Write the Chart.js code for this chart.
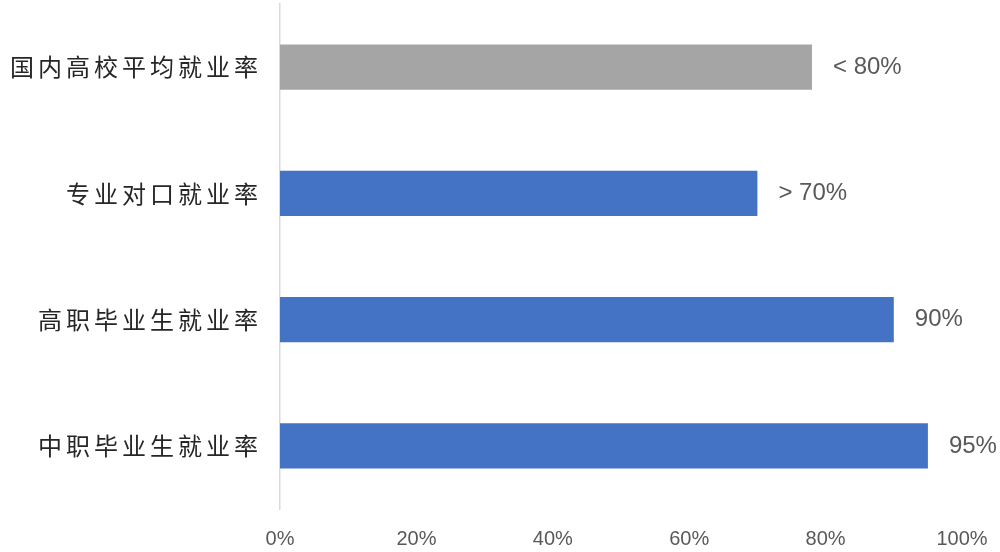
<!DOCTYPE html>
<html>
<head>
<meta charset="utf-8">
<script src="https://cdn.jsdelivr.net/npm/chart.js@4/dist/chart.umd.min.js"></script>
<style>
  html, body { margin: 0; padding: 0; background: #fff; }
  #wrap { width: 1000px; height: 552px; }
</style>
</head>
<body>
<div id="wrap"><canvas id="rateBar"></canvas></div>
<script>
const categories = ["国内高校平均就业率", "专业对口就业率", "高职毕业生就业率", "中职毕业生就业率"];
const rates = [78, 70, 90, 95];
const rateLabels = ["< 80%", "> 70%", "90%", "95%"];
const barColors = ["#A5A5A5", "#4472C4", "#4472C4", "#4472C4"];
const xTicks = [0, 20, 40, 60, 80, 100];

// category names, drawn with letter spacing like the original
const catLabels = {
  id: "catLabels",
  afterDraw(chart) {
    const ctx = chart.ctx;
    const y = chart.scales.y;
    ctx.save();
    ctx.font = '24px "Noto Sans CJK SC", sans-serif';
    ctx.fillStyle = "#262626";
    ctx.textAlign = "right";
    ctx.textBaseline = "middle";
    if ("letterSpacing" in ctx) ctx.letterSpacing = "4px";
    categories.forEach((c, i) => {
      ctx.fillText(c, chart.chartArea.left - 18, y.getPixelForValue(i));
    });
    ctx.restore();
  }
};

// value labels after each bar
const valueLabels = {
  id: "valueLabels",
  afterDatasetsDraw(chart) {
    const ctx = chart.ctx;
    const meta = chart.getDatasetMeta(0);
    ctx.save();
    ctx.font = '24px "Liberation Sans", Arial, sans-serif';
    ctx.fillStyle = "#595959";
    ctx.textAlign = "left";
    ctx.textBaseline = "middle";
    meta.data.forEach((bar, i) => {
      ctx.fillText(rateLabels[i], bar.x + 21, bar.y);
    });
    ctx.restore();
  }
};

new Chart(document.getElementById("rateBar"), {
  type: "bar",
  data: {
    labels: categories,
    datasets: [{
      data: rates,
      backgroundColor: barColors,
      borderWidth: 0,
      barPercentage: 0.36,
      categoryPercentage: 1
    }]
  },
  options: {
    indexAxis: "y",
    responsive: true,
    maintainAspectRatio: false,
    animation: false,
    layout: { padding: { top: 4, right: 38, left: 0, bottom: 0 } },
    plugins: { legend: { display: false }, tooltip: { enabled: false } },
    scales: {
      x: {
        min: 0, max: 100,
        afterBuildTicks: (s) => { s.ticks = xTicks.map(v => ({ value: v })); },
        afterFit: (s) => { s.height = 43; },
        grid: { display: false },
        border: { display: false },
        ticks: {
          padding: 10,
          color: "#595959",
          font: { family: "Liberation Sans", size: 20 },
          callback: (v) => v + "%"
        }
      },
      y: {
        afterFit: (s) => { s.width = 280; },
        grid: { display: false },
        border: { display: true, color: "#D9D9D9", width: 1.5 },
        ticks: { display: false }
      }
    }
  },
  plugins: [catLabels, valueLabels]
});
</script>
</body>
</html>
